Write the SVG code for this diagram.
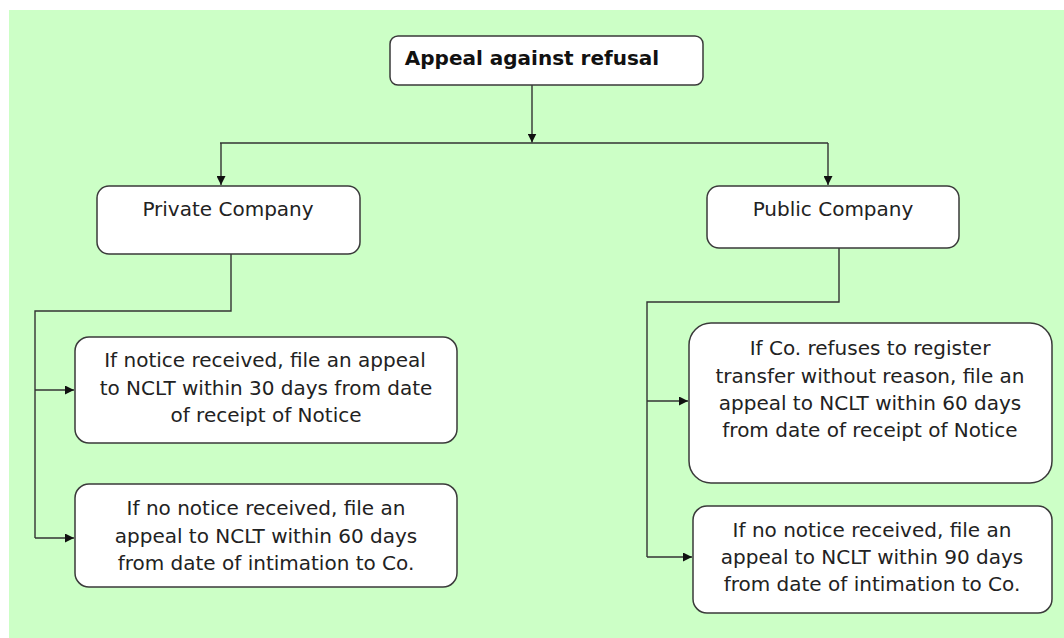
<svg xmlns="http://www.w3.org/2000/svg" width="1064" height="638" viewBox="0 0 1064 638">
  <defs>
    <marker id="arrow" viewBox="0 0 10 10" refX="10" refY="5" markerWidth="9" markerHeight="9" markerUnits="userSpaceOnUse" orient="auto">
      <path d="M0,0 L10,5 L0,10 z" fill="#111"/>
    </marker>
    <style>
      .box { fill: #ffffff; stroke: #3a3a3a; stroke-width: 1.5; }
      .wire { fill: none; stroke: #333; stroke-width: 1.4; }
      .txt { font-family: "DejaVu Sans", Verdana, sans-serif; font-size: 20px; fill: #222; text-anchor: middle; }
      .title { font-weight: bold; fill: #111; }
    </style>
  </defs>

  <rect x="0" y="0" width="1064" height="638" fill="#ffffff"/>
  <rect x="9" y="10" width="1055" height="628" fill="#ccffc6"/>

  <!-- connectors -->
  <g id="connectors">
    <path class="wire" d="M532,85 V142.5" marker-end="url(#arrow)"/>
    <path class="wire" d="M220,143 H828"/>
    <path class="wire" d="M221,143 V185" marker-end="url(#arrow)"/>
    <path class="wire" d="M828,143 V185" marker-end="url(#arrow)"/>

    <path class="wire" d="M231,254 V311 H35 V538"/>
    <path class="wire" d="M35,390 H74" marker-end="url(#arrow)"/>
    <path class="wire" d="M35,538 H74" marker-end="url(#arrow)"/>

    <path class="wire" d="M839,248 V302 H647 V557"/>
    <path class="wire" d="M647,401 H688" marker-end="url(#arrow)"/>
    <path class="wire" d="M647,557 H692" marker-end="url(#arrow)"/>
  </g>

  <g id="appeal">
    <rect class="box" x="390" y="36" width="313" height="49" rx="8"/>
    <text class="txt title" x="532" y="65">Appeal against refusal</text>
  </g>

  <g id="private">
    <rect class="box" x="97" y="186" width="263" height="68" rx="12"/>
    <text class="txt" x="228" y="216">Private Company</text>
  </g>

  <g id="public">
    <rect class="box" x="707" y="186" width="252" height="62" rx="12"/>
    <text class="txt" x="833" y="216">Public Company</text>
  </g>

  <g id="private-notice">
    <rect class="box" x="75" y="337" width="382" height="106" rx="14"/>
    <text class="txt" x="265" y="367">If notice received, file an appeal</text>
    <text class="txt" x="266" y="395">to NCLT within 30 days from date</text>
    <text class="txt" x="266" y="422">of receipt of Notice</text>
  </g>

  <g id="private-no-notice">
    <rect class="box" x="75" y="484" width="382" height="103" rx="14"/>
    <text class="txt" x="266" y="515">If no notice received, file an</text>
    <text class="txt" x="266" y="543">appeal to NCLT within 60 days</text>
    <text class="txt" x="266" y="570">from date of intimation to Co.</text>
  </g>

  <g id="public-refusal">
    <rect class="box" x="689" y="323" width="363" height="160" rx="22"/>
    <text class="txt" x="870" y="355">If Co. refuses to register</text>
    <text class="txt" x="870" y="383">transfer without reason, file an</text>
    <text class="txt" x="870" y="410">appeal to NCLT within 60 days</text>
    <text class="txt" x="870" y="437">from date of receipt of Notice</text>
  </g>

  <g id="public-no-notice">
    <rect class="box" x="693" y="506" width="359" height="107" rx="14"/>
    <text class="txt" x="872" y="537">If no notice received, file an</text>
    <text class="txt" x="872" y="564">appeal to NCLT within 90 days</text>
    <text class="txt" x="872" y="591">from date of intimation to Co.</text>
  </g>
</svg>
